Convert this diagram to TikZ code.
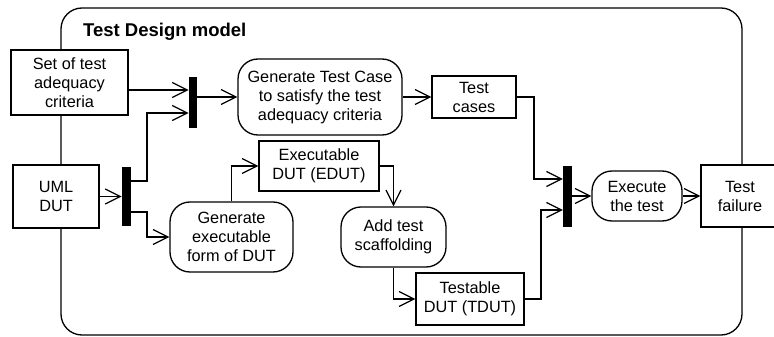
\documentclass[tikz,border=0pt]{standalone}
\usepackage{fontspec}
\setmainfont{Liberation Sans}
\usetikzlibrary{arrows.meta}
\begin{document}
\begin{tikzpicture}[x=1pt,y=-1pt,
  every node/.style={font=\fontsize{16.3}{19}\selectfont, align=center, inner sep=0pt},
  obj/.style={draw, fill=white, line width=1.3pt},
  act/.style={draw, fill=white, line width=1.3pt, rounded corners=20pt},
  syncbar/.style={fill=black, draw=none},
  frame/.style={draw, line width=1.3pt, rounded corners=21pt},
  arr/.style={line width=1.2pt, -{Straight Barb[length=15pt,width=15pt,line width=1.2pt]}}]
\useasboundingbox (0,0) rectangle (774,337);

% enclosing model frame
\node[frame, minimum width=681pt, minimum height=327pt] (model) at (401.5,171.5) {};
\node[anchor=base west, font=\fontsize{18.5}{21}\selectfont\bfseries] (title) at (83,37) {Test Design model};

% object nodes
\node[obj, minimum width=117pt, minimum height=65pt] (crit) at (69.5,82.5) {Set of test\\adequacy\\criteria};
\node[obj, minimum width=86pt, minimum height=63pt] (uml) at (56,196.5) {UML\\DUT};
\node[obj, minimum width=84pt, minimum height=42pt] (tc) at (474,97) {Test\\cases};
\node[obj, minimum width=120pt, minimum height=50pt] (edut) at (319,166) {Executable\\DUT (EDUT)};
\node[obj, minimum width=108pt, minimum height=52pt] (tdut) at (470,299) {Testable\\DUT (TDUT)};
\node[obj, minimum width=78pt, minimum height=62pt] (tf) at (740,196) {Test\\failure};

% activity nodes
\node[act, minimum width=164pt, minimum height=76pt] (gtc) at (320,97) {Generate Test Case\\to satisfy the test\\adequacy criteria};
\node[act, minimum width=123pt, minimum height=70pt] (gex) at (231.5,237) {Generate\\executable\\form of DUT};
\node[act, minimum width=105pt, minimum height=60pt] (ats) at (393.5,237) {Add test\\scaffolding};
\node[act, minimum width=90pt, minimum height=50pt] (exe) at (637,196) {Execute\\the test};

% synchronisation bars
\node[syncbar, minimum width=8.5pt, minimum height=51pt] (bar1) at (193,102.5) {};
\node[syncbar, minimum width=9.5pt, minimum height=59pt] (bar2) at (126.5,196.5) {};
\node[syncbar, minimum width=9pt, minimum height=61pt] (bar3) at (567.5,196.5) {};

% flows
\draw[arr] (crit.east |- 0,90) -- (bar1.west |- 0,90);
\draw[arr] (bar2.east |- 0,181) -- (147,181) -- (147,113) -- (bar1.west |- 0,113);
\draw[arr] (bar1.east |- gtc.west) -- (gtc.west);
\draw[arr] (gtc.east) -- (tc.west);
\draw[arr] (tc.east) -- (534,97) -- (534,179) -- (bar3.west |- 0,179);
\draw[arr] (uml.east) -- (bar2.west |- uml.east);
\draw[arr] (bar2.east |- 0,212) -- (147,212) -- (147,237) -- (gex.west);
\draw[arr] (gex.north) -- (gex.north |- edut.west) -- (edut.west);
\draw[arr] (edut.east) -- (ats.north |- edut.east) -- (ats.north);
\draw[arr] (ats.south) -- (ats.south |- tdut.west) -- (tdut.west);
\draw[arr] (tdut.east) -- (541,299) -- (541,210) -- (bar3.west |- 0,210);
\draw[arr] (bar3.east |- exe.west) -- (exe.west);
\draw[arr] (exe.east) -- (tf.west);
\end{tikzpicture}
\end{document}
